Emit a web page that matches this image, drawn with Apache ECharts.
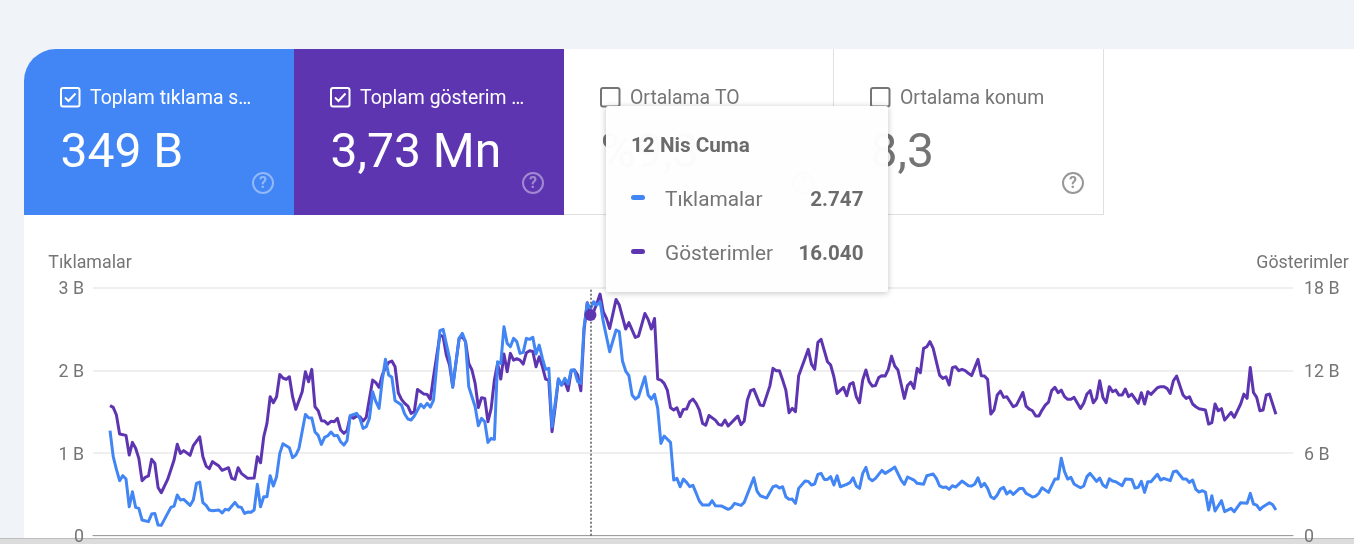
<!DOCTYPE html>
<html><head><meta charset="utf-8">
<style>html,body{margin:0;padding:0;background:#f0f3f8;overflow:hidden}#c{width:1354px;height:544px}</style>
<script src="https://cdn.jsdelivr.net/npm/echarts@6/dist/echarts.min.js"></script>
</head><body><div id="c"></div>
<script>
// [day index, value]
const impressions = [[0,9450],[1,9325],[2,8770],[3,7390],[5,7290],[6,5860],[7,6780],[8,6350],[9,5620],[10,4000],[11,4240],[12,4340],[13,5550],[14,5260],[15,3510],[16,3120],[18,4090],[20,5500],[21,6640],[22,5980],[23,6180],[25,5840],[26,6540],[28,7190],[29,5740],[30,5060],[31,4870],[32,5380],[34,5060],[35,4750],[37,4940],[38,4170],[39,4090],[40,4940],[41,4530],[43,4170],[45,4190],[46,5740],[47,5300],[48,7190],[49,8160],[50,10100],[51,9660],[52,10100],[53,11720],[54,11460],[55,11360],[56,11550],[57,10100],[58,9180],[60,10460],[61,11920],[62,11190],[63,12090],[64,9370],[65,9080],[66,8360],[67,8330],[68,8110],[69,8310],[70,8280],[71,8530],[72,7680],[73,7440],[74,7630],[75,8700],[76,8530],[77,8700],[78,8650],[79,8330],[80,8600],[82,11310],[83,11120],[84,10780],[85,11670],[86,12230],[87,12590],[88,12690],[89,12280],[90,10390],[91,9910],[92,9620],[93,9420],[94,8890],[95,9010],[96,10630],[97,10460],[98,10290],[99,10270],[100,9910],[101,11550],[103,14580],[104,14460],[105,13130],[106,12400],[107,10830],[109,14340],[110,14460],[111,14100],[112,12520],[113,12040],[114,11070],[115,9320],[116,10030],[117,9980],[118,8280],[119,9250],[120,11310],[121,12520],[122,11380],[123,13200],[124,11920],[125,13250],[126,12760],[127,12860],[128,12760],[129,12470],[130,13300],[131,13440],[132,13390],[133,12280],[134,13010],[135,12280],[136,11380],[137,11310],[138,7560],[139,9370],[140,11380],[141,10950],[142,11190],[143,10540],[144,11990],[145,12040],[146,11670],[147,10540],[148,14940],[149,16930],[150,16040],[151,16280],[152,16880],[153,17560],[154,16280],[155,15790],[156,15060],[158,17170],[159,16760],[161,15020],[162,15480],[164,14410],[165,14510],[167,16150],[168,15720],[169,15020],[170,15790],[171,11380],[172,11310],[173,11070],[174,10580],[175,9300],[176,9130],[177,9300],[178,8650],[179,9180],[180,9200],[181,9740],[182,9930],[183,9620],[184,9130],[185,8160],[186,8020],[187,8740],[189,8400],[190,8090],[191,8020],[192,8400],[193,7970],[195,8450],[196,8700],[197,8070],[198,8330],[199,9860],[200,10540],[201,10630],[203,9490],[204,9450],[206,10870],[207,12160],[208,11990],[209,11990],[210,11310],[211,10580],[212,8940],[213,9250],[214,9010],[215,11630],[217,12890],[218,13540],[219,12470],[220,12090],[221,14050],[222,14270],[224,12640],[225,12400],[226,11550],[227,10340],[229,10780],[230,10170],[231,11020],[232,11120],[233,10100],[234,9660],[235,11310],[236,12040],[237,11190],[238,10870],[239,10920],[240,11500],[241,11630],[242,11600],[243,12090],[244,13050],[245,12330],[246,12040],[248,9980],[249,10920],[250,11170],[251,10710],[252,12160],[253,11840],[254,13610],[255,13730],[256,14100],[257,13610],[259,11670],[260,11430],[261,11550],[262,10950],[263,12210],[264,12280],[265,11990],[266,12090],[267,11990],[268,11800],[269,11630],[271,12810],[272,11630],[273,11600],[274,11360],[275,8840],[276,9130],[277,10220],[278,10510],[279,10050],[280,10100],[282,9370],[283,9490],[285,10410],[286,9420],[287,9200],[288,9080],[289,8700],[290,8700],[291,9130],[292,9490],[293,9710],[294,10540],[295,10780],[296,10390],[297,10580],[298,10100],[299,9910],[300,9910],[301,10050],[303,9250],[304,9620],[305,10290],[306,10540],[307,9660],[308,9980],[309,11260],[310,10050],[311,9660],[312,10830],[313,10460],[314,10580],[315,10220],[316,10220],[317,10660],[318,10100],[319,10290],[321,9620],[322,10390],[323,9570],[324,10460],[325,10270],[327,10750],[328,10830],[329,10830],[330,10710],[331,10340],[332,11260],[333,11600],[335,10220],[336,9980],[337,10100],[338,9570],[339,9370],[340,9230],[342,9130],[343,8110],[344,8210],[345,9570],[346,9080],[347,9230],[348,8400],[350,8960],[351,8600],[353,9570],[354,10290],[355,9980],[356,12230],[357,10410],[358,10050],[359,9080],[360,9130],[361,10220],[362,10290],[364,8820]];
const clicks = [[0,1272],[1,957],[2,803],[3,666],[4,727],[5,686],[6,351],[7,533],[8,343],[9,331],[10,190],[12,170],[13,262],[14,270],[15,129],[16,125],[19,343],[20,359],[21,493],[22,432],[23,440],[25,367],[26,432],[27,634],[28,650],[29,400],[30,367],[31,311],[32,303],[34,311],[35,275],[36,319],[37,311],[39,404],[40,351],[41,343],[42,270],[43,287],[44,283],[45,311],[46,622],[47,351],[48,472],[49,472],[50,727],[51,602],[52,715],[53,997],[54,1114],[55,1090],[56,1066],[57,945],[58,977],[59,1058],[61,1469],[62,1429],[63,1425],[64,1256],[65,1215],[66,1106],[67,1191],[68,1211],[69,1256],[70,1211],[71,1215],[72,1138],[73,1098],[74,1151],[75,1453],[77,1482],[78,1421],[79,1300],[80,1320],[81,1421],[82,1744],[83,1623],[84,1542],[85,1885],[86,2136],[87,1946],[88,1918],[89,1635],[90,1611],[91,1583],[92,1474],[93,1413],[94,1401],[95,1449],[97,1591],[98,1550],[99,1603],[100,1558],[101,1643],[103,2483],[104,2499],[106,2148],[107,1796],[109,2390],[110,2450],[111,2350],[112,1805],[113,1683],[114,1562],[115,1332],[116,1421],[117,1381],[118,1130],[119,1179],[120,1167],[121,2107],[122,2087],[123,2531],[124,2329],[125,2289],[126,2390],[127,2350],[128,2208],[129,2220],[130,2390],[131,2378],[132,2402],[133,2200],[134,2309],[135,2148],[136,2014],[137,2027],[138,1320],[140,1897],[141,1825],[142,1905],[143,1837],[144,2006],[145,2006],[146,1865],[147,1845],[148,2531],[149,2814],[150,2747],[151,2834],[152,2794],[153,2834],[154,2592],[156,2228],[158,2491],[159,2471],[160,2115],[161,1994],[162,1938],[163,1704],[164,1655],[165,1683],[167,1926],[168,1704],[169,1655],[170,1712],[171,1542],[172,1118],[173,1207],[175,1130],[176,674],[177,694],[178,593],[179,686],[180,646],[181,593],[182,610],[184,420],[185,371],[187,371],[188,424],[189,363],[191,359],[193,319],[194,339],[195,392],[197,367],[198,404],[201,702],[202,541],[203,484],[205,456],[207,593],[208,606],[209,577],[210,593],[211,472],[212,440],[213,444],[214,392],[215,573],[217,662],[218,658],[219,614],[220,626],[221,743],[222,755],[223,682],[224,682],[225,715],[226,614],[227,727],[228,593],[230,622],[231,642],[232,702],[233,602],[234,573],[235,755],[236,828],[237,694],[238,666],[239,694],[241,791],[242,755],[244,803],[245,832],[247,674],[248,622],[249,711],[251,674],[252,634],[254,622],[255,727],[257,747],[258,694],[259,602],[260,585],[261,589],[262,561],[263,606],[264,589],[266,662],[268,606],[269,602],[270,626],[271,702],[272,593],[273,634],[274,573],[275,472],[276,448],[277,493],[278,565],[279,585],[280,505],[281,541],[282,501],[284,573],[285,573],[286,513],[287,493],[288,468],[289,480],[290,513],[291,581],[293,525],[295,686],[296,686],[297,937],[298,775],[299,686],[300,706],[301,626],[302,602],[303,581],[304,602],[305,715],[306,755],[308,658],[309,698],[310,614],[311,585],[312,690],[313,662],[314,654],[316,606],[317,686],[319,682],[320,577],[321,585],[322,658],[323,525],[324,654],[325,654],[327,743],[328,674],[329,694],[331,666],[332,775],[333,783],[335,686],[336,686],[337,646],[338,674],[339,561],[340,529],[341,545],[342,529],[343,311],[344,484],[345,299],[347,424],[348,291],[350,331],[351,291],[353,400],[355,392],[356,513],[357,384],[358,371],[359,315],[360,351],[362,400],[363,375],[364,311]];
const hoverDay = 150, hoverClicks = 2747, hoverImpressions = 16040;
const hoverDate = '12 Nis Cuma';
const clicksName = 'Tıklamalar', impressionsName = 'Gösterimler';
const cards = [
  {label:'Toplam tıklama s…', value:'349 B', checked:true, bg:'#4285f4'},
  {label:'Toplam gösterim …', value:'3,73 Mn', checked:true, bg:'#5e35b1'},
  {label:'Ortalama TO', value:'%9,3', checked:false, bg:'#ffffff'},
  {label:'Ortalama konum', value:'8,3', checked:false, bg:'#ffffff'}
];
const FONT = 'Roboto';
const BLUE = '#4285f4', PURPLE = '#5e35b1', GREY = '#757575';
const fmt = v => v === 0 ? '0' : (v / 1000) + ' B';
const els = [];
const T = (x,y,text,size,fill,o={}) => ({type:'text',x,y,z:o.z??-1,silent:true,style:{text,x:0,y:0,fill,opacity:o.opacity??1,font:`${o.weight||400} ${size}px ${FONT}`,textAlign:o.align||'left',textVerticalAlign:'middle'}});
els.push({type:'rect',z:-5,silent:true,shape:{x:24,y:49,width:1360,height:489,r:[32,32,0,0]},style:{fill:'#fff'}});
els.push({type:'rect',z:-5,silent:true,shape:{x:0,y:538,width:1354,height:6},style:{fill:'#dcdcdc'}});
els.push({type:'rect',z:-5,silent:true,shape:{x:0,y:538,width:1354,height:1},style:{fill:'#bdbdbd'}});
cards.forEach((c,i)=>{
  const x0 = 24 + i*270;
  const fg = c.checked ? '#ffffff' : GREY;
  els.push({type:'rect',z:-4,silent:true,shape:{x:x0,y:49,width:270,height:166,r:i===0?[32,0,0,0]:0},style:{fill:c.bg}});
  if(!c.checked){
    els.push({type:'line',z:-4,silent:true,shape:{x1:x0,y1:214.5,x2:x0+270,y2:214.5},style:{stroke:'#e0e0e0',lineWidth:1}});
    els.push({type:'line',z:-4,silent:true,shape:{x1:x0+269.5,y1:49,x2:x0+269.5,y2:215},style:{stroke:'#e0e0e0',lineWidth:1}});
  }
  els.push({type:'rect',z:-3,silent:true,shape:{x:x0+37,y:88,width:18.5,height:18.5,r:2},style:{fill:'none',stroke:fg,lineWidth:2}});
  if(c.checked) els.push({type:'polyline',z:-3,silent:true,shape:{points:[[x0+41,97.5],[x0+44.5,101],[x0+51.5,93.5]]},style:{fill:'none',stroke:fg,lineWidth:2}});
  els.push(T(x0+66,99,c.label,19.4,fg,{z:-3}));
  els.push(T(x0+36.5,154.5,c.value,48,fg,{z:-3,weight:400}));
  const hx = x0+239, hy = 183, hc = c.checked ? '#ffffff' : GREY, ho = c.checked ? 0.42 : 0.75;
  els.push({type:'circle',z:-3,silent:true,shape:{cx:hx,cy:hy,r:10},style:{fill:'none',stroke:hc,lineWidth:2,opacity:ho}});
  els.push(T(hx,hy+1,'?',16,hc,{z:-3,align:'center',weight:700,opacity:ho}));
});
const TZ = 100;
els.push({type:'rect',z:TZ,silent:true,shape:{x:606,y:106,width:282,height:186,r:2},style:{fill:'rgba(255,255,255,0.975)',shadowBlur:6,shadowColor:'rgba(0,0,0,0.25)',shadowOffsetY:1}});
els.push(T(631,146.5,hoverDate,20.7,'#6b6b6b',{z:TZ+1,weight:700}));
[[clicksName,hoverClicks,BLUE,199],[impressionsName,hoverImpressions,PURPLE,253]].forEach(([n,v,col,y])=>{
  els.push({type:'rect',z:TZ+1,silent:true,shape:{x:631,y:y-4,width:14,height:5,r:2.5},style:{fill:col}});
  els.push(T(665,y+1.5,n,20.8,GREY,{z:TZ+1}));
  els.push(T(863.5,y+1.5,v.toLocaleString('de-DE'),20.6,'#6b6b6b',{z:TZ+1,weight:700,align:'right'}));
});
const chart = echarts.init(document.getElementById('c'),null,{renderer:'canvas'});
const axisCommon = {type:'value',min:0,axisLine:{show:false},axisTick:{show:false},
  splitLine:{show:true,lineStyle:{color:'#eeeeee',width:1.5}},
  nameLocation:'end',nameGap:15.5};
const tickLabel = {color:GREY,fontSize:17.8,fontFamily:FONT,verticalAlign:'top',lineHeight:4,formatter:fmt};
chart.setOption({
  animation:false,backgroundColor:'transparent',
  textStyle:{fontFamily:FONT},
  tooltip:{show:false},
  graphic:{elements:els},
  grid:{left:93,top:288,width:1200,height:247.7,containLabel:false,outerBoundsMode:'none'},
  xAxis:{type:'value',min:-5.31,max:369.34,axisLabel:{show:false},axisTick:{show:false},splitLine:{show:false},
    axisLine:{show:true,lineStyle:{color:'#9e9e9e',width:1.2}}},
  yAxis:[
    {...axisCommon,name:clicksName,max:3000,interval:1000,
     nameTextStyle:{color:GREY,fontSize:17.8,fontFamily:FONT,align:'center',padding:[0,40,0,0]},
     axisLabel:{...tickLabel,margin:9}},
    {...axisCommon,name:impressionsName,max:18000,interval:6000,
     nameTextStyle:{color:GREY,fontSize:17.8,fontFamily:FONT,align:'center',padding:[0,0,0,19]},
     axisLabel:{...tickLabel,margin:11}}
  ],
  series:[
    {name:impressionsName,type:'line',yAxisIndex:1,data:impressions,showSymbol:false,symbol:'none',
     lineStyle:{color:PURPLE,width:3,join:'round'},itemStyle:{color:PURPLE},z:2,
     markLine:{silent:true,symbol:'none',label:{show:false},animation:false,
       lineStyle:{color:'#555',type:[2,2],width:1.5},data:[{xAxis:hoverDay}]}},
    {name:clicksName,type:'line',yAxisIndex:0,data:clicks,showSymbol:false,symbol:'none',
     lineStyle:{color:BLUE,width:3,join:'round'},itemStyle:{color:BLUE},z:3},
    {name:impressionsName,type:'scatter',yAxisIndex:1,data:[[hoverDay,hoverImpressions]],symbol:'circle',symbolSize:12,
     itemStyle:{color:PURPLE,opacity:1},z:5,silent:true}
  ]
});
</script></body></html>
